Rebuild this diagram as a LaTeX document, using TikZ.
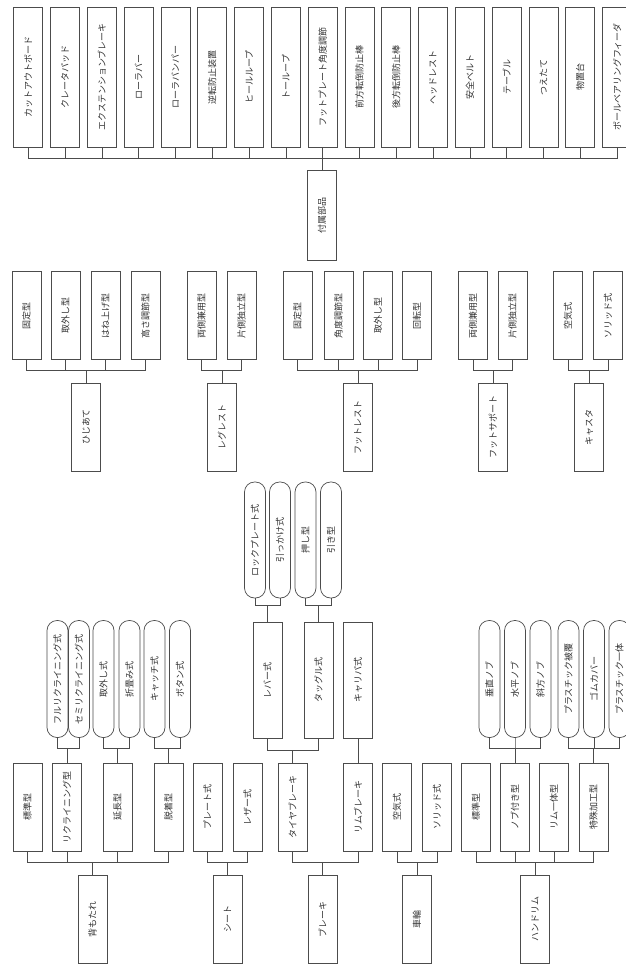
\documentclass[tikz,border=0pt]{standalone}
\usepackage{fontspec}
\setmainfont{Noto Sans CJK JP}
\begin{document}
\begin{tikzpicture}[x=1pt,y=-1pt,
  every node/.style={font=\fontsize{9}{10}\selectfont, text=black!80, inner sep=0pt},
  box/.style={draw=black!70, line width=0.7pt, minimum width=29pt, minimum height=88pt},
  tallbox/.style={box, minimum height=140pt},
  midbox/.style={box, minimum height=116pt},
  pill/.style={draw=black!70, line width=0.7pt, minimum width=21pt, minimum height=117pt, rounded corners=10pt},
  link/.style={draw=black!70, line width=0.7pt}]
\fill[white] (0,0) rectangle (626,969);
\useasboundingbox (0,0) rectangle (626,969);

% ---------- top group: 付属部品 ----------
\foreach \t [count=\i] in {カットアウトボード,クレータパッド,エクステンションブレーキ,ローラバー,ローラバンパー,逆転防止装置,ヒールループ,トーループ,フットプレート角度調節,前方転倒防止棒,後方転倒防止棒,ヘッドレスト,安全ベルト,テーブル,つえたて,物置台,ボールベアリングフィーダ}
  \node[tallbox] (t\i) at ({28.25+36.8*(\i-1)},77) {\rotatebox{90}{\t}};
\node[box, minimum height=90pt] (fz) at (322,215) {\rotatebox{90}{付属部品}};
\coordinate (busT) at (0,158);
\foreach \i in {1,...,17}
  \draw[link] (t\i.south) -- (t\i.south |- busT) -| (fz.north);

% ---------- second row ----------
\coordinate (bus2) at (0,370);
% ひじあて
\node[box] (h1) at (26.5,315.5) {\rotatebox{90}{固定型}};
\node[box] (h2) at (65.5,315.5) {\rotatebox{90}{取外し型}};
\node[box] (h3) at (105.5,315.5) {\rotatebox{90}{はね上げ型}};
\node[box] (h4) at (145.5,315.5) {\rotatebox{90}{高さ調節型}};
\node[box] (hij) at (86,427) {\rotatebox{90}{ひじあて}};
\foreach \n in {h1,h2,h3,h4}
  \draw[link] (\n.south) -- (\n.south |- bus2) -| (hij.north);
% レグレスト
\node[box] (l1) at (201.5,315.5) {\rotatebox{90}{両側兼用型}};
\node[box] (l2) at (241.5,315.5) {\rotatebox{90}{片側独立型}};
\node[box] (leg) at (222,427) {\rotatebox{90}{レグレスト}};
\foreach \n in {l1,l2}
  \draw[link] (\n.south) -- (\n.south |- bus2) -| (leg.north);
% フットレスト
\node[box] (f1) at (297.5,315.5) {\rotatebox{90}{固定型}};
\node[box] (f2) at (338.5,315.5) {\rotatebox{90}{角度調節型}};
\node[box] (f3) at (378,315.5) {\rotatebox{90}{取外し型}};
\node[box] (f4) at (417,315.5) {\rotatebox{90}{回転型}};
\node[box] (foot) at (358,427) {\rotatebox{90}{フットレスト}};
\foreach \n in {f1,f2,f3,f4}
  \draw[link] (\n.south) -- (\n.south |- bus2) -| (foot.north);
% フットサポート
\node[box] (s1) at (473,315.5) {\rotatebox{90}{両側兼用型}};
\node[box] (s2) at (512.5,315.5) {\rotatebox{90}{片側独立型}};
\node[box] (sup) at (493,427) {\rotatebox{90}{フットサポート}};
\foreach \n in {s1,s2}
  \draw[link] (\n.south) -- (\n.south |- bus2) -| (sup.north);
% キャスタ
\node[box] (k1) at (568,315.5) {\rotatebox{90}{空気式}};
\node[box] (k2) at (608,315.5) {\rotatebox{90}{ソリッド式}};
\node[box] (cas) at (589,427) {\rotatebox{90}{キャスタ}};
\foreach \n in {k1,k2}
  \draw[link] (\n.south) -- (\n.south |- bus2) -| (cas.north);

% ---------- bottom area ----------
\coordinate (bus3) at (0,862);
\coordinate (brP) at (0,748);
% 背もたれ
\node[pill] (bp1) at (57.5,679) {\rotatebox{90}{フルリクライニング式}};
\node[pill] (bp2) at (79,679) {\rotatebox{90}{セミリクライニング式}};
\node[pill] (bp3) at (103.5,679) {\rotatebox{90}{取外し式}};
\node[pill] (bp4) at (129.5,679) {\rotatebox{90}{折畳み式}};
\node[pill] (bp5) at (154.5,679) {\rotatebox{90}{キャッチ式}};
\node[pill] (bp6) at (180,679) {\rotatebox{90}{ボタン式}};
\node[box] (b1) at (27.5,807) {\rotatebox{90}{標準型}};
\node[box] (b2) at (67,807) {\rotatebox{90}{リクライニング型}};
\node[box] (b3) at (117.5,807) {\rotatebox{90}{延長型}};
\node[box] (b4) at (168.5,807) {\rotatebox{90}{脱着型}};
\node[box] (back) at (92.5,919) {\rotatebox{90}{背もたれ}};
\foreach \n in {bp1,bp2} \draw[link] (\n.south) -- (\n.south |- brP) -| (b2.north);
\foreach \n in {bp3,bp4} \draw[link] (\n.south) -- (\n.south |- brP) -| (b3.north);
\foreach \n in {bp5,bp6} \draw[link] (\n.south) -- (\n.south |- brP) -| (b4.north);
\foreach \n in {b1,b2,b3,b4}
  \draw[link] (\n.south) -- (\n.south |- bus3) -| (back.north);
% シート
\node[box] (c1) at (207.5,807) {\rotatebox{90}{プレート式}};
\node[box] (c2) at (247.5,807) {\rotatebox{90}{レザー式}};
\node[box] (seat) at (227.5,919) {\rotatebox{90}{シート}};
\foreach \n in {c1,c2}
  \draw[link] (\n.south) -- (\n.south |- bus3) -| (seat.north);
% ブレーキ
\coordinate (brA) at (0,605);
\coordinate (brB) at (0,750);
\node[pill, minimum height=116pt] (kp1) at (255,540) {\rotatebox{90}{ロックプレート式}};
\node[pill, minimum height=116pt] (kp2) at (280,540) {\rotatebox{90}{引っかけ式}};
\node[pill, minimum height=116pt] (kp3) at (305.5,540) {\rotatebox{90}{押し型}};
\node[pill, minimum height=116pt] (kp4) at (331,540) {\rotatebox{90}{引き型}};
\node[midbox] (lev) at (267.5,680) {\rotatebox{90}{レバー式}};
\node[midbox] (tog) at (318.5,680) {\rotatebox{90}{タッグル式}};
\node[midbox] (cal) at (358,680) {\rotatebox{90}{キャリパ式}};
\foreach \n in {kp1,kp2} \draw[link] (\n.south) -- (\n.south |- brA) -| (lev.north);
\foreach \n in {kp3,kp4} \draw[link] (\n.south) -- (\n.south |- brA) -| (tog.north);
\node[box] (tire) at (292.5,807) {\rotatebox{90}{タイヤブレーキ}};
\node[box] (rim) at (358,807) {\rotatebox{90}{リムブレーキ}};
\foreach \n in {lev,tog} \draw[link] (\n.south) -- (\n.south |- brB) -| (tire.north);
\draw[link] (cal.south) -- (rim.north);
\node[box] (brake) at (322.5,919) {\rotatebox{90}{ブレーキ}};
\foreach \n in {tire,rim}
  \draw[link] (\n.south) -- (\n.south |- bus3) -| (brake.north);
% 車輪
\node[box] (w1) at (397,807) {\rotatebox{90}{空気式}};
\node[box] (w2) at (437,807) {\rotatebox{90}{ソリッド式}};
\node[box] (wheel) at (417,919) {\rotatebox{90}{車輪}};
\foreach \n in {w1,w2}
  \draw[link] (\n.south) -- (\n.south |- bus3) -| (wheel.north);
% ハンドリム
\node[pill] (rp1) at (489.5,679) {\rotatebox{90}{垂直ノブ}};
\node[pill] (rp2) at (515,679) {\rotatebox{90}{水平ノブ}};
\node[pill] (rp3) at (540.5,679) {\rotatebox{90}{斜方ノブ}};
\node[pill] (rp4) at (568.5,679) {\rotatebox{90}{プラスチック被覆}};
\node[pill] (rp5) at (594,679) {\rotatebox{90}{ゴムカバー}};
\node[pill] (rp6) at (619.5,679) {\rotatebox{90}{プラスチック一体}};
\node[box] (r1) at (476,807) {\rotatebox{90}{標準型}};
\node[box] (r2) at (515,807) {\rotatebox{90}{ノブ付き型}};
\node[box] (r3) at (554,807) {\rotatebox{90}{リム一体型}};
\node[box] (r4) at (593.5,807) {\rotatebox{90}{特殊加工型}};
\node[box] (hand) at (535,919) {\rotatebox{90}{ハンドリム}};
\foreach \n in {rp1,rp2,rp3} \draw[link] (\n.south) -- (\n.south |- brP) -| (r2.north);
\foreach \n in {rp4,rp5,rp6} \draw[link] (\n.south) -- (\n.south |- brP) -| (r4.north);
\foreach \n in {r1,r2,r3,r4}
  \draw[link] (\n.south) -- (\n.south |- bus3) -| (hand.north);
\end{tikzpicture}
\end{document}
